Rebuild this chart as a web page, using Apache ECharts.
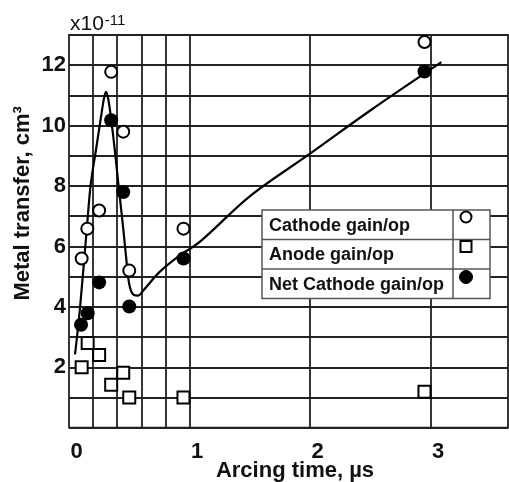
<!DOCTYPE html>
<html>
<head>
<meta charset="utf-8">
<script src="https://cdn.jsdelivr.net/npm/echarts@6/dist/echarts.min.js"></script>
<style>
html,body{margin:0;padding:0;background:#fff;}
#chart{width:509px;height:482px;}
</style>
</head>
<body>
<div id="chart"></div>
<script>
// ---- data ----
var xTickLabels = [0, 1, 2, 3];
var yTickLabels = [2, 4, 6, 8, 10, 12];
var xGridLines = [0.2, 0.4, 0.6, 0.8, 1, 2, 3];

var cathodeX = [0.105, 0.152, 0.25, 0.35, 0.45, 0.5, 0.95, 2.95];
var cathodeY = [5.6, 6.59, 7.19, 11.78, 9.8, 5.2, 6.59, 12.77];

var anodeX = [0.105, 0.155, 0.25, 0.35, 0.45, 0.5, 0.95, 2.95];
var anodeY = [2.0, 2.8, 2.41, 1.42, 1.82, 1.0, 1.0, 1.19];

var netX = [0.1, 0.155, 0.25, 0.35, 0.45, 0.5, 0.95, 2.95];
var netY = [3.41, 3.79, 4.81, 10.18, 7.8, 4.01, 5.6, 11.79];

var curveX = [0.05, 0.09, 0.15, 0.18, 0.224, 0.27, 0.29, 0.307, 0.325, 0.35, 0.38, 0.41, 0.45, 0.48, 0.5, 0.53, 0.57, 0.62, 0.75, 0.9, 1.09, 1.5, 2.0, 2.5, 3.09];
var curveY = [2.43, 3.9, 6.7, 8.05, 9.2, 10.4, 10.9, 11.12, 10.9, 10.2, 9.2, 8.05, 6.6, 5.4, 4.75, 4.42, 4.37, 4.56, 5.15, 5.65, 6.17, 7.66, 9.07, 10.5, 12.1];

var legendNames = ['Cathode gain/op', 'Anode gain/op', 'Net Cathode gain/op'];

function pairs(xs, ys) { return xs.map(function (x, i) { return [x, ys[i]]; }); }

var LINE = '#222';
var FONT = '"Liberation Sans", Arial, sans-serif';
var chart = echarts.init(document.getElementById('chart'));

var legendLeft = 262, legendTop = 210, legendW = 228, rowH = 29.5, divX = 453;
var legendGraphics = [];
legendGraphics.push({
  type: 'rect', z: 100,
  shape: { x: legendLeft, y: legendTop, width: legendW, height: rowH * 3 },
  style: { fill: '#fff', stroke: '#555', lineWidth: 1.5 }
});
for (var r = 1; r < 3; r++) {
  legendGraphics.push({
    type: 'line', z: 101,
    shape: { x1: legendLeft, y1: legendTop + r * rowH, x2: legendLeft + legendW, y2: legendTop + r * rowH },
    style: { stroke: '#555', lineWidth: 1.5 }
  });
}
legendGraphics.push({
  type: 'line', z: 101,
  shape: { x1: divX, y1: legendTop, x2: divX, y2: legendTop + 3 * rowH },
  style: { stroke: '#555', lineWidth: 1.5 }
});
legendNames.forEach(function (name, i) {
  legendGraphics.push({
    type: 'text', z: 102,
    style: {
      text: name, x: 269, y: legendTop + i * rowH + rowH / 2 + 1,
      font: 'bold 18px ' + FONT,
      fill: '#111', verticalAlign: 'middle', align: 'left'
    }
  });
});
legendGraphics.push({
  type: 'circle', z: 102,
  shape: { cx: 466, cy: legendTop + 7, r: 5.5 },
  style: { fill: '#fff', stroke: '#000', lineWidth: 2 }
});
legendGraphics.push({
  type: 'rect', z: 102,
  shape: { x: 460.5, y: legendTop + rowH + 1.5, width: 11, height: 11 },
  style: { fill: '#fff', stroke: '#000', lineWidth: 2 }
});
legendGraphics.push({
  type: 'circle', z: 102,
  shape: { cx: 466, cy: legendTop + 2 * rowH + 8, r: 6.5 },
  style: { fill: '#000', stroke: '#000', lineWidth: 1 }
});
legendGraphics.push({
  type: 'text', z: 102,
  style: {
    text: '{b|x10}{s|-11}', x: 70, y: 35, verticalAlign: 'bottom',
    rich: {
      b: { font: '21px ' + FONT, fill: '#111', lineHeight: 22, verticalAlign: 'bottom' },
      s: { font: '15px ' + FONT, fill: '#111', lineHeight: 22, verticalAlign: 'top', padding: [0, 0, 0, 1] }
    }
  }
});

chart.setOption({
  animation: false,
  backgroundColor: '#fff',
  grid: {
    left: 69, right: 1, top: 35, bottom: 54.3,
    outerBoundsMode: 'none', containLabel: false,
    show: true, borderColor: LINE, borderWidth: 1.8, backgroundColor: 'transparent'
  },
  xAxis: {
    type: 'value', min: 0, max: 3.643,
    name: 'Arcing time, µs', nameLocation: 'middle', nameGap: 32, nameMoveOverlap: false,
    nameTextStyle: { fontFamily: FONT, fontWeight: 'bold', fontSize: 22, color: '#111', padding: [0, 0, 0, 13] },
    axisLine: { show: false }, axisTick: { show: false }, splitLine: { show: false },
    axisLabel: {
      customValues: xTickLabels, margin: 13, padding: [0, 0, 0, 15],
      fontFamily: FONT, fontWeight: 'bold', fontSize: 22, color: '#111'
    }
  },
  yAxis: {
    type: 'value', min: 0, max: 13, interval: 1,
    name: 'Metal transfer, cm³', nameLocation: 'middle', nameGap: 35, nameRotate: 90, nameMoveOverlap: false,
    nameTextStyle: { fontFamily: FONT, fontWeight: 'bold', fontSize: 22, color: '#111', padding: [0, 0, 0, 56] },
    axisLine: { show: false }, axisTick: { show: false },
    splitLine: { show: true, lineStyle: { color: LINE, width: 1.8 } },
    axisLabel: {
      customValues: yTickLabels, margin: 3,
      fontFamily: FONT, fontWeight: 'bold', fontSize: 22, color: '#111'
    }
  },
  graphic: legendGraphics,
  series: [
    {
      name: 'fit', type: 'line', data: pairs(curveX, curveY),
      smooth: 0.35, showSymbol: false, symbol: 'none', z: 3,
      lineStyle: { color: '#000', width: 2.2 },
      markLine: {
        silent: true, symbol: 'none', label: { show: false }, z: 1,
        lineStyle: { color: LINE, width: 1.8, type: 'solid' },
        data: xGridLines.map(function (v) { return { xAxis: v }; })
      }
    },
    {
      name: legendNames[0], type: 'scatter', data: pairs(cathodeX, cathodeY),
      symbol: 'circle', symbolSize: 12, z: 5,
      itemStyle: { color: '#fff', borderColor: '#000', borderWidth: 2, opacity: 1 }
    },
    {
      name: legendNames[1], type: 'scatter', data: pairs(anodeX, anodeY),
      symbol: 'rect', symbolSize: 12, z: 5,
      itemStyle: { color: '#fff', borderColor: '#000', borderWidth: 2, opacity: 1 }
    },
    {
      name: legendNames[2], type: 'scatter', data: pairs(netX, netY),
      symbol: 'circle', symbolSize: 14, z: 6,
      itemStyle: { color: '#000', borderColor: '#000', borderWidth: 0, opacity: 1 }
    }
  ]
});
</script>
</body>
</html>
